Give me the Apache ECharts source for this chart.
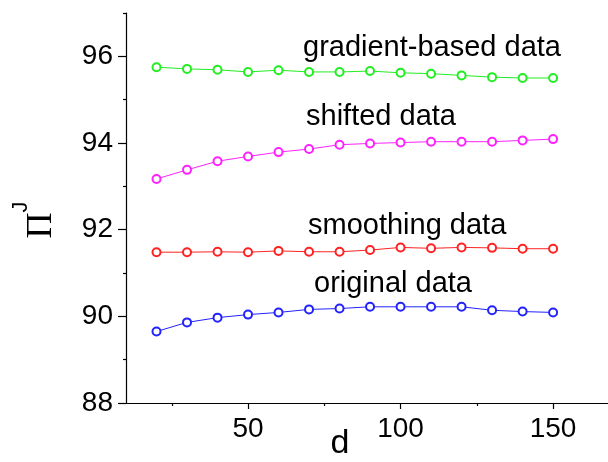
<!DOCTYPE html>
<html>
<head>
<meta charset="utf-8">
<script src="https://cdn.jsdelivr.net/npm/echarts@6/dist/echarts.min.js"></script>
<style>
  html, body { margin: 0; padding: 0; background: #fff; }
  #chart { width: 608px; height: 462px; }
</style>
</head>
<body>
<div id="chart"></div>
<script>
const dValues = [20, 30, 40, 50, 60, 70, 80, 90, 100, 110, 120, 130, 140, 150]

const gradientBased = [95.75, 95.71, 95.69, 95.64, 95.68, 95.64, 95.64, 95.66, 95.62, 95.60, 95.56, 95.52, 95.50, 95.50]
const shifted = [93.17, 93.38, 93.58, 93.69, 93.79, 93.86, 93.96, 93.99, 94.01, 94.03, 94.03, 94.03, 94.06, 94.09]
const smoothing = [91.48, 91.48, 91.49, 91.48, 91.51, 91.49, 91.49, 91.53, 91.59, 91.57, 91.59, 91.58, 91.56, 91.56]
const original = [89.65, 89.86, 89.97, 90.04, 90.09, 90.16, 90.18, 90.22, 90.22, 90.22, 90.22, 90.14, 90.11, 90.09]

const xMajorTicks = [50, 100, 150]
const xMinorTicks = [25, 75, 125]
const yMajorTicks = [88, 90, 92, 94, 96]
const yMinorTicks = [89, 91, 93, 95, 97]

const font = '"Liberation Sans", Arial, sans-serif'

const pairs = (ys) => dValues.map((x, i) => [x, ys[i]])

const makeSeries = (name, ys, color) => ({
  name: name,
  type: 'line',
  data: pairs(ys),
  symbol: 'emptyCircle',
  symbolSize: 8,
  color: color,
  lineStyle: { width: 1, color: color },
  itemStyle: { color: color, borderWidth: 1 },
  animation: false
})

const axisBase = {
  min: 10,
  max: 168,
  splitLine: { show: false }
}

const chart = echarts.init(document.getElementById('chart'))

const option = {
  backgroundColor: '#fff',
  grid: { left: 126, right: 0, top: 13, bottom: 59, outerBoundsMode: 'none', containLabel: false },
  xAxis: [
    Object.assign({}, axisBase, {
      type: 'value',
      name: 'd',
      nameLocation: 'middle',
      nameGap: 24,
      nameMoveOverlap: false,
      nameTextStyle: { fontFamily: font, fontSize: 34, color: '#000', padding: [0, 54, 0, 0] },
      axisLine: { lineStyle: { color: '#000', width: 1.2 } },
      axisTick: { show: true, length: 6, customValues: xMajorTicks, lineStyle: { color: '#000', width: 1.2 } },
      axisLabel: { customValues: xMajorTicks, fontFamily: font, fontSize: 28, color: '#000', margin: 12 }
    }),
    Object.assign({}, axisBase, {
      type: 'value',
      position: 'bottom',
      axisLine: { show: false },
      axisTick: { show: true, length: 3, customValues: xMinorTicks, lineStyle: { color: '#000', width: 1.2 } },
      axisLabel: { show: false }
    })
  ],
  yAxis: [
    {
      type: 'value',
      min: 88,
      max: 97,
      splitLine: { show: false },
      name: '{p|Π}{s|J}',
      nameLocation: 'middle',
      nameRotate: 90,
      nameGap: 66,
      nameMoveOverlap: false,
      nameTextStyle: {
        color: '#000',
        padding: [0, 24, 0, 0],
        rich: {
          p: { fontFamily: '"Liberation Serif", "Times New Roman", serif', fontSize: 36, lineHeight: 50, verticalAlign: 'bottom', color: '#000' },
          s: { fontFamily: '"Liberation Sans", Arial, sans-serif', fontSize: 22, color: '#000', verticalAlign: 'top' }
        }
      },
      axisLine: { lineStyle: { color: '#000', width: 1.2 } },
      axisTick: { show: true, length: 8, customValues: yMajorTicks, lineStyle: { color: '#000', width: 1.2 } },
      axisLabel: { customValues: yMajorTicks, fontFamily: font, fontSize: 28, color: '#000', margin: 13 }
    },
    {
      type: 'value',
      min: 88,
      max: 97,
      position: 'left',
      splitLine: { show: false },
      axisLine: { show: false },
      axisTick: { show: true, length: 3, customValues: yMinorTicks, lineStyle: { color: '#000', width: 1.2 } },
      axisLabel: { show: false }
    }
  ],
  graphic: [
    { type: 'text', left: 303, top: 33, style: { text: 'gradient-based data', font: '29px ' + font, fill: '#000' } },
    { type: 'text', left: 306, top: 102, style: { text: 'shifted data', font: '29px ' + font, fill: '#000' } },
    { type: 'text', left: 308, top: 211, style: { text: 'smoothing data', font: '29px ' + font, fill: '#000' } },
    { type: 'text', left: 314, top: 269, style: { text: 'original data', font: '29px ' + font, fill: '#000' } }
  ],
  series: [
    makeSeries('gradient-based data', gradientBased, '#22ee22'),
    makeSeries('shifted data', shifted, '#ff22ff'),
    makeSeries('smoothing data', smoothing, '#ff2222'),
    makeSeries('original data', original, '#2222ff')
  ]
}

chart.setOption(option)
</script>
</body>
</html>
